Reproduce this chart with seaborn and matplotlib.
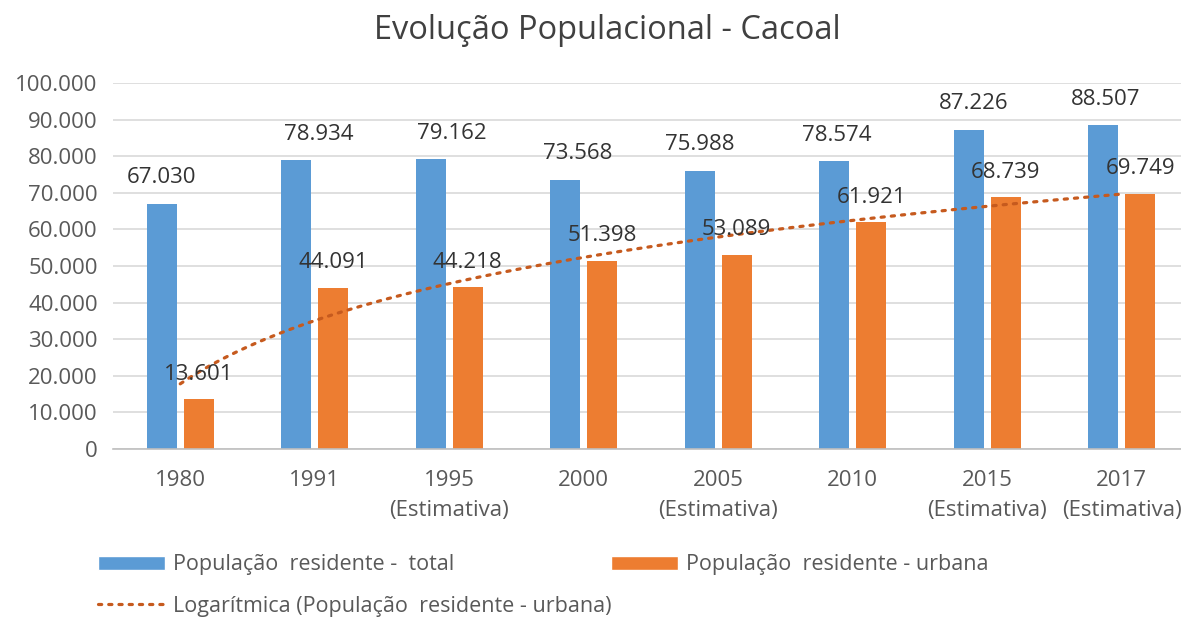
import numpy as np
import pandas as pd
import matplotlib
matplotlib.use("Agg")
import matplotlib.pyplot as plt
import seaborn as sns
from matplotlib.patches import Patch
from matplotlib.lines import Line2D
from matplotlib.ticker import FuncFormatter, MultipleLocator

categories = ["1980", "1991", "1995\n(Estimativa)", "2000", "2005\n(Estimativa)",
              "2010", "2015\n(Estimativa)", "2017\n(Estimativa)"]
total = [67030, 78934, 79162, 73568, 75988, 78574, 87226, 88507]
urbana = [13601, 44091, 44218, 51398, 53089, 61921, 68739, 69749]
series_names = ["População  residente -  total", "População  residente - urbana"]
trend_name = "Logarítmica (População  residente - urbana)"
title = "Evolução Populacional - Cacoal"

# label x-offsets (pixels) for the total-series labels, as placed in the original
total_label_dx = [0, 22, 21, 12, 0, 2, 5, 2]

sns.set_theme(style="white")
plt.rcParams["font.family"] = ["Open Sans", "DejaVu Sans"]

df = pd.DataFrame({
    "cat": categories * 2,
    "valor": total + urbana,
    "serie": [series_names[0]] * len(categories) + [series_names[1]] * len(categories),
})

blue = "#5B9BD5"
orange = "#ED7D31"
trend_color = "#C65A1E"
txt = "#333333"
gray = "#595959"

fig = plt.figure(figsize=(11.81, 6.18), dpi=100)
ax = fig.add_axes([113 / 1181, 1 - 449 / 618, (1189 - 113) / 1181, (449 - 83) / 618])

sns.barplot(data=df, x="cat", y="valor", hue="serie", order=categories,
            hue_order=series_names, palette=[blue, orange], width=0.55, gap=0.2,
            ax=ax, legend=False, saturation=1, linewidth=0)

ax.set_xlim(-0.5, len(categories) - 0.5)
ax.set_ylim(0, 100000)
ax.yaxis.set_major_locator(MultipleLocator(10000))
ax.yaxis.set_major_formatter(FuncFormatter(lambda v, p: f"{int(v):,}".replace(",", ".")))
ax.grid(axis="y", color="#D9D9D9", linewidth=1.2)
ax.set_axisbelow(True)
for s in ["top", "right", "left"]:
    ax.spines[s].set_visible(False)
ax.spines["bottom"].set_color("#BFBFBF")
ax.spines["bottom"].set_linewidth(1.2)
ax.tick_params(axis="both", length=0, labelsize=16, colors=gray)
ax.tick_params(axis="x", pad=15)
ax.tick_params(axis="y", pad=11)
for lab in ax.get_xticklabels():
    lab.set_linespacing(1.55)
ax.set_xlabel("")
ax.set_ylabel("")

def fmt(v):
    return f"{v:,}".replace(",", ".")

# data labels
for i, bar in enumerate(ax.containers[0]):
    ax.annotate(fmt(total[i]), xy=(bar.get_x() + bar.get_width() / 2, bar.get_height()),
                xytext=(total_label_dx[i], 26), textcoords="offset pixels",
                ha="center", va="center", fontsize=16, color=txt)
for i, bar in enumerate(ax.containers[1]):
    ax.annotate(fmt(urbana[i]), xy=(bar.get_x() + bar.get_width() / 2, bar.get_height()),
                xytext=(0, 25), textcoords="offset pixels",
                ha="center", va="center", fontsize=16, color=txt)

# logarithmic trendline on urban series
xs = np.arange(1, len(urbana) + 1)
a, b = np.polyfit(np.log(xs), urbana, 1)
xx = np.linspace(1, len(urbana), 200)
ax.plot(xx - 1, a * np.log(xx) + b, linestyle=(0, (1, 2.2)), linewidth=2.3,
        color=trend_color, dash_capstyle="round")

fig.suptitle(title, x=0.514, y=0.978, fontsize=23.5, color="#404040", va="top")

handles = [Patch(facecolor=blue, label=series_names[0]),
           Line2D([0], [0], linestyle=(0, (1, 2.2)), linewidth=2.3, color=trend_color,
                  dash_capstyle="round", label=trend_name),
           Patch(facecolor=orange, label=series_names[1])]
fig.legend(handles=handles, ncol=2, loc="upper left", bbox_to_anchor=(0.083, 0.103),
           frameon=False, fontsize=15.5, labelcolor=gray, handlelength=3.1,
           handleheight=0.65, handletextpad=0.37, columnspacing=0.0, labelspacing=0.95,
           borderaxespad=0, borderpad=0)

fig.savefig("out.png", dpi=100)
